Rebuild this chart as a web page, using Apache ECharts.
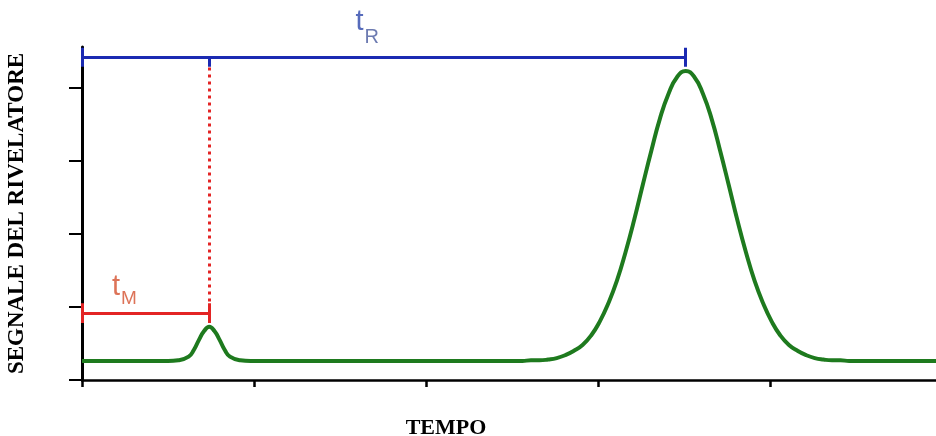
<!DOCTYPE html>
<html>
<head>
<meta charset="utf-8">
<script src="https://cdn.jsdelivr.net/npm/echarts@6/dist/echarts.min.js"></script>
<style>
  html, body { margin: 0; padding: 0; background: #fff; }
  #chart { width: 936px; height: 436px; }
</style>
</head>
<body>
<div id="chart"></div>
<script>
// cromatogramma: segnale del rivelatore nel tempo
const timeVals = [
  0, 0.2, 0.38, 0.44, 0.5, 0.56, 0.62, 0.65, 0.68, 0.71, 0.74, 0.77, 0.8, 0.83, 0.86,
  0.92, 0.98, 1.04, 1.1, 1.5, 1.9, 2.16, 2.31, 2.41, 2.51, 2.56, 2.61, 2.66, 2.71, 2.76,
  2.81, 2.86, 2.91, 2.96, 3.01, 3.06, 3.11, 3.16, 3.21, 3.26, 3.31, 3.36, 3.41, 3.46,
  3.51, 3.56, 3.61, 3.66, 3.71, 3.76, 3.81, 3.86, 3.91, 3.96, 4.01, 4.06, 4.11, 4.16,
  4.21, 4.26, 4.31, 4.36, 4.41, 4.46, 4.51, 4.61, 4.76, 4.965
];
const signalVals = [
  0.26, 0.26, 0.26, 0.26, 0.26, 0.27, 0.32, 0.41, 0.55, 0.67, 0.73, 0.67, 0.55, 0.41, 0.32,
  0.27, 0.26, 0.26, 0.26, 0.26, 0.26, 0.26, 0.26, 0.26, 0.26, 0.26, 0.27, 0.27, 0.28, 0.30,
  0.34, 0.40, 0.48, 0.61, 0.80, 1.05, 1.36, 1.75, 2.19, 2.67, 3.14, 3.58, 3.92, 4.15,
  4.23, 4.15, 3.92, 3.58, 3.14, 2.67, 2.19, 1.75, 1.36, 1.05, 0.80, 0.61, 0.48, 0.40,
  0.34, 0.30, 0.28, 0.27, 0.27, 0.26, 0.26, 0.26, 0.26, 0.26
];

// tempo di ritenzione (blu) e tempo morto (rosso)
const tR = 3.51, tM = 0.74;
const tRLevel = 4.42, tMLevel = 0.92;
const xTicks = [0, 1, 2, 3, 4];
const yTicks = [0, 1, 2, 3, 4];

const curve = timeVals.map((t, i) => [t, signalVals[i]]);

const blue = '#1b2ab2', red = '#e32424';

const bracketLines = [
  { coords: [[0, tRLevel], [tR, tRLevel]], lineStyle: { color: blue } },
  { coords: [[0, 4.55], [0, 4.29]], lineStyle: { color: blue } },
  { coords: [[tR, 4.55], [tR, 4.29]], lineStyle: { color: blue } },
  { coords: [[tM, tRLevel], [tM, 4.29]], lineStyle: { color: blue } },
  { coords: [[0, tMLevel], [tM, tMLevel]], lineStyle: { color: red } },
  { coords: [[0, 1.05], [0, 0.78]], lineStyle: { color: red } },
  { coords: [[tM, 1.05], [tM, 0.78]], lineStyle: { color: red } }
];

const chart = echarts.init(document.getElementById('chart'));

chart.setOption({
  animation: false,
  grid: { left: 82, top: 47, right: 0, bottom: 56, outerBoundsMode: 'none' },
  xAxis: {
    type: 'value',
    min: 0,
    max: 4.965,
    interval: 1,
    name: 'TEMPO',
    nameLocation: 'middle',
    nameGap: 37,
    nameTextStyle: {
      fontFamily: 'Liberation Serif',
      fontWeight: 'bold',
      fontSize: 22,
      color: '#000',
      padding: [0, 126, 0, 0]
    },
    axisLine: { lineStyle: { color: '#000', width: 2.5 } },
    axisTick: { length: 7, lineStyle: { color: '#000', width: 2.5 }, customValues: xTicks },
    axisLabel: { show: false },
    splitLine: { show: false }
  },
  yAxis: {
    type: 'value',
    min: 0,
    max: 4.56,
    interval: 1,
    name: 'SEGNALE DEL RIVELATORE',
    nameLocation: 'middle',
    nameGap: 53,
    nameTextStyle: {
      fontFamily: 'Liberation Serif',
      fontWeight: 'bold',
      fontSize: 23,
      color: '#000'
    },
    axisLine: { show: true, lineStyle: { color: '#000', width: 3 } },
    axisTick: { show: true, length: 13, lineStyle: { color: '#000', width: 2 }, customValues: yTicks },
    axisLabel: { show: false },
    splitLine: { show: false }
  },
  series: [
    {
      type: 'line',
      data: curve,
      smooth: true,
      showSymbol: false,
      lineStyle: { color: '#1e7a1e', width: 4 },
      z: 3
    },
    {
      type: 'lines',
      coordinateSystem: 'cartesian2d',
      lineStyle: { color: red, width: 3, type: [3, 4], opacity: 1 },
      data: [{ coords: [[tM, 4.28], [tM, tMLevel]] }],
      z: 4
    },
    {
      type: 'lines',
      coordinateSystem: 'cartesian2d',
      lineStyle: { width: 3, opacity: 1 },
      data: bracketLines,
      z: 5
    },
    {
      type: 'scatter',
      symbolSize: 0,
      clip: false,
      silent: true,
      data: [
        { value: [1.59, 5.1], label: { formatter: '{tb|t}{r|R}{h40| }' } },
        { value: [0.174, 1.47], label: { formatter: '{tr|t}{m|M}{h36| }' } }
      ],
      label: {
        show: true,
        position: [0, 0],
        align: 'left',
        verticalAlign: 'top',
        fontFamily: 'Liberation Sans',
        rich: {
          tb: { fontSize: 29, lineHeight: 30, verticalAlign: 'top', color: '#2c46aa' },
          tr: { fontSize: 29, lineHeight: 30, verticalAlign: 'top', color: '#d5502e' },
          r: { fontSize: 20, lineHeight: 20, verticalAlign: 'bottom', color: '#485a9e', padding: [0, 0, 0, 1] },
          m: { fontSize: 19, lineHeight: 20, verticalAlign: 'bottom', color: '#d5502e', padding: [0, 0, 0, 1] },
          h40: { fontSize: 1, lineHeight: 40 },
          h36: { fontSize: 1, lineHeight: 36 }
        }
      }
    }
  ]
});
</script>
</body>
</html>
